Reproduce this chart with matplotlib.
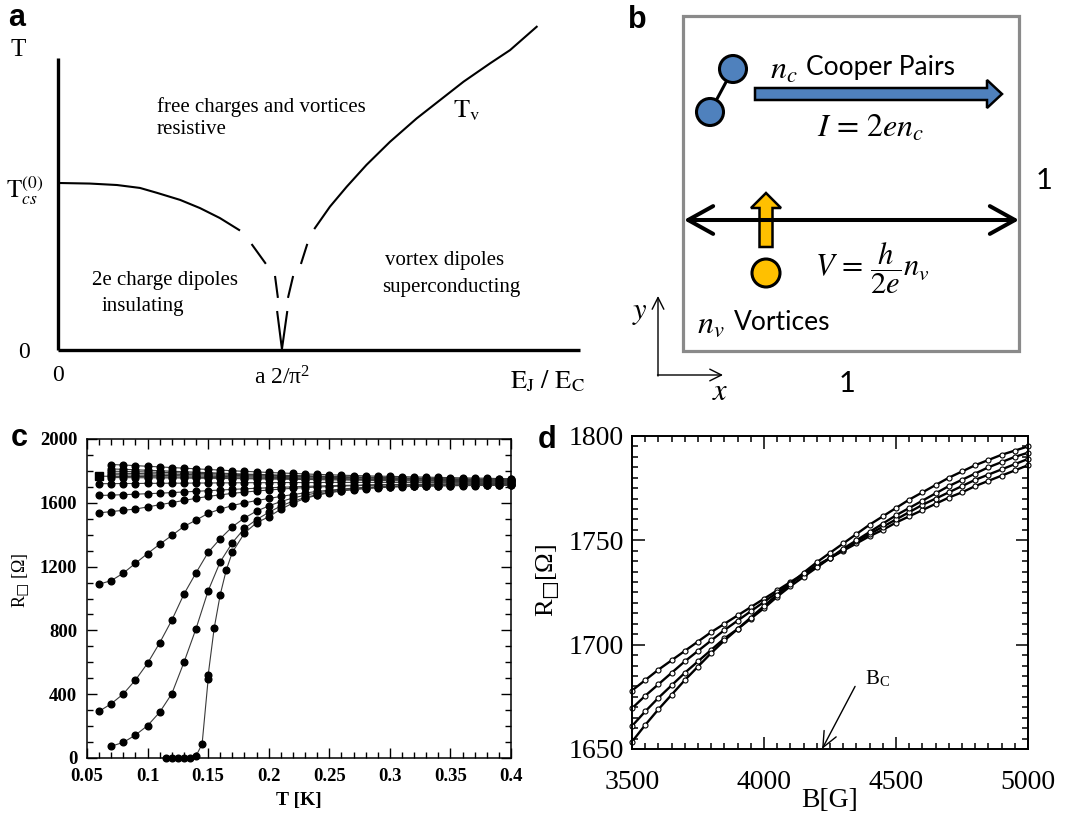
import numpy as np
import matplotlib
matplotlib.use('Agg')
import matplotlib.pyplot as plt
from matplotlib.patches import Circle, Polygon, Rectangle
from matplotlib.ticker import MultipleLocator, FuncFormatter

plt.rcParams['mathtext.fontset'] = 'stix'

W, H = 1065, 817
fig = plt.figure(figsize=(W / 100, H / 100), dpi=100)


def fx(px):
    return px / W


def fy(py):
    return 1 - py / H


SERIF = 'Liberation Serif'
SANS = 'Liberation Sans'
CAL = 'Lato'

# ------------------------------------------------------------------ data
# panel a : schematic phase diagram (x = E_J/E_C scaled, y = T scaled)
a_left_x = [0, 0.061, 0.113, 0.157, 0.190, 0.234, 0.272, 0.310, 0.347]
a_left_y = [0.572, 0.570, 0.565, 0.555, 0.538, 0.514, 0.486, 0.452, 0.411]
a_right_x = [0.492, 0.521, 0.553, 0.591, 0.636, 0.687, 0.732, 0.777, 0.828, 0.866, 0.917]
a_right_y = [0.417, 0.491, 0.559, 0.634, 0.713, 0.793, 0.856, 0.919, 0.982, 1.027, 1.107]
a_dashes = [
    ([0.372, 0.397], [0.360, 0.298]),
    ([0.416, 0.421], [0.250, 0.182]),
    ([0.441, 0.450], [0.182, 0.250]),
    ([0.466, 0.477], [0.298, 0.360]),
]
a_v_x = [0.420, 0.429, 0.439]
a_v_y = [0.130, 0.003, 0.130]

# panel c : R(T) curves
T06 = np.round(np.arange(0.06, 0.4001, 0.01), 2)
T07 = np.round(np.arange(0.07, 0.4001, 0.01), 2)
T_c7 = [0.115, 0.12, 0.125, 0.13, 0.135, 0.14, 0.145, 0.15, 0.15, 0.155, 0.16, 0.165, 0.17] + \
    list(np.round(np.arange(0.18, 0.4001, 0.01), 2))

R_I1 = [1840, 1837, 1833, 1829, 1825, 1821, 1817, 1813, 1809, 1805, 1801, 1797, 1794, 1790, 1787, 1784, 1781,
        1778, 1776, 1773, 1771, 1769, 1767, 1766, 1764, 1762, 1761, 1759, 1758, 1756, 1755, 1754, 1752, 1751]
R_I2 = [1812, 1810, 1807, 1804, 1801, 1798, 1795, 1792, 1789, 1786, 1783, 1780, 1778, 1776, 1773, 1771, 1769,
        1767, 1766, 1764, 1762, 1761, 1759, 1758, 1756, 1755, 1754, 1752, 1751, 1750, 1749, 1748, 1747, 1747]
R_I3 = [1798, 1797, 1795, 1793, 1791, 1789, 1787, 1785, 1783, 1781, 1779, 1777, 1775, 1773, 1771, 1769, 1767,
        1765, 1763, 1761, 1759, 1758, 1756, 1755, 1753, 1752, 1751, 1749, 1748, 1747, 1746, 1745, 1744, 1743]
R_I4 = [1786, 1785, 1784, 1782, 1781, 1779, 1778, 1776, 1775, 1773, 1772, 1770, 1769, 1767, 1766, 1764, 1763,
        1761, 1760, 1758, 1757, 1755, 1754, 1752, 1751, 1749, 1748, 1747, 1746, 1745, 1744, 1742, 1741, 1740]
R_I5 = [1776, 1775, 1774, 1773, 1772, 1771, 1769, 1768, 1767, 1765, 1764, 1763, 1762, 1760, 1759, 1757, 1756,
        1755, 1753, 1752, 1750, 1749, 1748, 1746, 1745, 1744, 1743, 1742, 1741, 1740, 1739, 1738, 1738, 1737]
R_I6 = [1767, 1766, 1765, 1765, 1764, 1763, 1762, 1761, 1760, 1759, 1758, 1757, 1756, 1755, 1754, 1753, 1752,
        1751, 1750, 1749, 1748, 1747, 1746, 1745, 1744, 1743, 1742, 1741, 1740, 1739, 1738, 1737, 1736, 1735, 1734]
R_I7 = [1758, 1758, 1757, 1757, 1756, 1756, 1755, 1754, 1754, 1753, 1752, 1751, 1750, 1749, 1748, 1747, 1746,
        1745, 1744, 1743, 1742, 1741, 1740, 1739, 1738, 1737, 1736, 1735, 1734, 1734, 1733, 1732, 1732, 1731]
R_F1 = [1720, 1720, 1721, 1721, 1722, 1722, 1723, 1723, 1724, 1724, 1725, 1725, 1726, 1726, 1726, 1727, 1727,
        1727, 1727, 1728, 1728, 1728, 1728, 1728, 1728, 1728, 1728, 1728, 1728, 1728, 1728, 1728, 1728, 1728, 1728]
R_F2 = [1646, 1648, 1651, 1654, 1657, 1660, 1664, 1668, 1672, 1676, 1680, 1684, 1688, 1691, 1694, 1697, 1700,
        1703, 1705, 1707, 1709, 1710, 1712, 1713, 1714, 1715, 1716, 1717, 1718, 1719, 1720, 1720, 1721, 1721, 1722]
R_C3 = [1537, 1545, 1553, 1561, 1574, 1588, 1601, 1615, 1628, 1640, 1650, 1659, 1667, 1674, 1680, 1686, 1691,
        1695, 1699, 1702, 1705, 1707, 1709, 1711, 1712, 1713, 1714, 1715, 1716, 1717, 1717, 1718, 1718, 1719, 1719]
R_C4 = [1090, 1112, 1159, 1221, 1282, 1340, 1395, 1452, 1491, 1534, 1560, 1583, 1600, 1614, 1627, 1640, 1652,
        1662, 1671, 1679, 1686, 1692, 1697, 1700, 1703, 1705, 1707, 1709, 1710, 1711, 1712, 1713, 1714, 1715, 1716]
R_C5 = [293, 340, 402, 489, 594, 722, 864, 1027, 1161, 1289, 1375, 1450, 1505, 1548, 1580, 1608, 1630,
        1648, 1662, 1673, 1682, 1689, 1694, 1698, 1701, 1703, 1705, 1706, 1707, 1708, 1709, 1710, 1711, 1712, 1713]
R_C6 = [74, 98, 144, 203, 287, 403, 599, 811, 1048, 1230, 1350, 1440, 1495, 1540, 1580, 1610, 1633,
        1651, 1665, 1676, 1685, 1692, 1697, 1701, 1704, 1706, 1707, 1708, 1709, 1710, 1710, 1711, 1711, 1711]
R_C7 = [0, 0, 0, 0, 0, 13, 87, 493, 519, 815, 1025, 1180, 1290,
        1410, 1475, 1512, 1560, 1598, 1627, 1648, 1663, 1674, 1683, 1689, 1694, 1698, 1701, 1703, 1705, 1706,
        1707, 1708, 1708, 1709, 1709, 1709]

c_series = [
    (T07, R_I1), (T07, R_I2), (T07, R_I3), (T07, R_I4), (T07, R_I5), (T06, R_I6), (T07, R_I7),
    (T06, R_F1), (T06, R_F2), (T06, R_C3), (T06, R_C4), (T06, R_C5), (T07, R_C6), (T_c7, R_C7),
]
c_xticks = [0.05, 0.1, 0.15, 0.2, 0.25, 0.3, 0.35, 0.4]
c_yticks = [0, 400, 800, 1200, 1600, 2000]

# panel d : R(B) curves
B = np.arange(3500, 5001, 50)
D1 = [1678, 1683, 1688, 1692.5, 1697, 1701.5, 1706, 1710, 1714, 1718, 1722, 1726, 1730, 1734, 1738, 1741.5,
      1745, 1748.5, 1752, 1755, 1758.5, 1761.5, 1764.5, 1767.5, 1770.5, 1773, 1776, 1778.5, 1781, 1783.5, 1786]
D2 = [1669.5, 1675.5, 1681, 1686.5, 1692, 1697, 1702, 1707, 1711.5, 1716, 1720.5, 1725, 1729.5, 1733.5, 1737.5,
      1741.5, 1745.5, 1749.5, 1753, 1756.5, 1760, 1763.5, 1767, 1770, 1773, 1776, 1779, 1781.5, 1784, 1786.5, 1789]
D3 = [1661, 1668, 1674.5, 1680.5, 1686.5, 1692, 1697.5, 1703, 1707.5, 1712.5, 1717.5, 1723, 1728, 1732.5, 1737,
      1741.5, 1746, 1750, 1754, 1758, 1762, 1765.5, 1769, 1772.5, 1776, 1779, 1782, 1785, 1787.5, 1790, 1792]
D4 = [1653.5, 1661.5, 1669, 1676, 1683, 1689.5, 1696, 1702, 1707.5, 1713, 1718.5, 1724, 1729, 1734.5, 1739.5,
      1744, 1748.5, 1753, 1757.5, 1761.5, 1765.5, 1769.5, 1773, 1776.5, 1780, 1783, 1786, 1788.5, 1791, 1793, 1795]
d_series = [D1, D2, D3, D4]
d_xticks = [3500, 4000, 4500, 5000]
d_yticks = [1650, 1700, 1750, 1800]
Bc_value = 4220

# ------------------------------------------------------------------ panel a
ax_a = fig.add_axes([fx(58), fy(350), fx(580) - fx(58), (350 - 20) / H])
ax_a.set_xlim(0, 1)
ax_a.set_ylim(0, 330 / 292)
ax_a.axis('off')
ax_a.plot([0, 0], [0, 1], color='black', lw=2.4, solid_capstyle='butt', clip_on=False)
ax_a.plot([0, 1], [0, 0], color='black', lw=2.4, solid_capstyle='butt', clip_on=False)
ax_a.plot(a_left_x, a_left_y, color='black', lw=1.5)
ax_a.plot(a_right_x, a_right_y, color='black', lw=1.5)
for xs, ys in a_dashes:
    ax_a.plot(xs, ys, color='black', lw=1.5)
ax_a.plot(a_v_x, a_v_y, color='black', lw=1.5)

fs_a = 15
fig.text(fx(18), fy(50), 'T', fontsize=18, family=SERIF, ha='center', va='center')
fig.text(fx(25), fy(190), r'$\mathrm{T}_{cs}^{(0)}$', fontsize=18, ha='center', va='center')
fig.text(fx(24), fy(352), '0', fontsize=17, family=SERIF, ha='center', va='center')
fig.text(fx(58), fy(376), '0', fontsize=17, family=SERIF, ha='center', va='center')
fig.text(fx(282), fy(378), r'a 2/$\mathregular{\pi^2}$', fontsize=17, family=SERIF, ha='center', va='center')
fig.text(fx(547), fy(381), r'$\mathrm{E_J\ /\ E_C}$', fontsize=19, ha='center', va='center')
fig.text(fx(467), fy(110), r'$\mathrm{T_v}$', fontsize=19, ha='center', va='center')
fig.text(fx(157), fy(107), 'free charges and vortices', fontsize=fs_a, family=SERIF, ha='left', va='center')
fig.text(fx(157), fy(130), 'resistive', fontsize=fs_a, family=SERIF, ha='left', va='center')
fig.text(fx(92), fy(280), '2e charge dipoles', fontsize=fs_a, family=SERIF, ha='left', va='center')
fig.text(fx(102), fy(306), 'insulating', fontsize=fs_a, family=SERIF, ha='left', va='center')
fig.text(fx(385), fy(260), 'vortex dipoles', fontsize=fs_a, family=SERIF, ha='left', va='center')
fig.text(fx(382), fy(287), 'superconducting', fontsize=fs_a, family=SERIF, ha='left', va='center')

# ------------------------------------------------------------------ panel b
ax_b = fig.add_axes([fx(600), fy(420), 465 / W, 420 / H])
ax_b.set_xlim(600, 1065)
ax_b.set_ylim(420, 0)
ax_b.axis('off')

ax_b.add_patch(Rectangle((683, 16), 336, 335, fill=False, ec='#8a8a8a', lw=2.3))

BLUE = '#4F81BD'
YEL = '#FFC000'
# cooper pair
ax_b.plot([733, 710], [69, 112], color='black', lw=2.2, zorder=2)
ax_b.add_patch(Circle((733, 69), 13.5, fc=BLUE, ec='black', lw=2.2, zorder=3))
ax_b.add_patch(Circle((710, 112), 13.5, fc=BLUE, ec='black', lw=2.2, zorder=3))


def hblock(x0, x1, yc, sh, hw, hl):
    return [(x0, yc - sh / 2), (x1 - hl, yc - sh / 2), (x1 - hl, yc - hw), (x1, yc),
            (x1 - hl, yc + hw), (x1 - hl, yc + sh / 2), (x0, yc + sh / 2)]


def vblock(xc, y0, y1, sw, hw, hl):
    return [(xc - sw / 2, y0), (xc - sw / 2, y1 + hl), (xc - hw, y1 + hl), (xc, y1),
            (xc + hw, y1 + hl), (xc + sw / 2, y1 + hl), (xc + sw / 2, y0)]


ax_b.add_patch(Polygon(hblock(755, 1002, 94, 12, 14, 15), closed=True, fc=BLUE, ec='black', lw=1.8,
                       joinstyle='miter', zorder=3))
ax_b.add_patch(Polygon(vblock(766, 247, 193, 13, 15, 15), closed=True, fc=YEL, ec='black', lw=1.8,
                       joinstyle='miter', zorder=3))
ax_b.annotate('', xy=(1019, 220), xytext=(684, 220),
              arrowprops=dict(arrowstyle='<->,head_length=0.9,head_width=0.5', lw=2.9, color='black',
                              shrinkA=0, shrinkB=0, mutation_scale=20), zorder=4)
ax_b.add_patch(Circle((766, 273), 14, fc=YEL, ec='black', lw=2.2, zorder=3))

# coordinate arrows
ax_b.annotate('', xy=(658, 296), xytext=(658, 376),
              arrowprops=dict(arrowstyle='->,head_length=0.7,head_width=0.35', lw=1.0, color='black',
                              shrinkA=0, shrinkB=0, mutation_scale=12))
ax_b.annotate('', xy=(723, 375), xytext=(657.5, 375),
              arrowprops=dict(arrowstyle='->,head_length=0.7,head_width=0.35', lw=1.0, color='black',
                              shrinkA=0, shrinkB=0, mutation_scale=12))

fig.text(fx(770), fy(70), r'$n_c$', fontsize=23, ha='left', va='center')
fig.text(fx(806), fy(68), 'Cooper Pairs', fontsize=19, family=CAL, ha='left', va='center')
fig.text(fx(871), fy(128), r'$I\,=\,2en_c$', fontsize=23, ha='center', va='center')
fig.text(fx(872), fy(268), r'$V\,=\,\dfrac{h}{2e}n_v$', fontsize=22, ha='center', va='center')
fig.text(fx(697), fy(324), r'$n_v$', fontsize=23, ha='left', va='center')
fig.text(fx(734), fy(322), 'Vortices', fontsize=19, family=CAL, ha='left', va='center')
fig.text(fx(1044), fy(181), '1', fontsize=21, family=CAL, ha='center', va='center')
fig.text(fx(847), fy(384), '1', fontsize=21, family=CAL, ha='center', va='center')
fig.text(fx(640), fy(312), r'$y$', fontsize=22, ha='center', va='center')
fig.text(fx(720), fy(392), r'$x$', fontsize=22, ha='center', va='center')

# ------------------------------------------------------------------ panel c
ax_c = fig.add_axes([fx(87), fy(758), (511 - 87) / W, (758 - 439) / H])
for T, R in c_series:
    ax_c.plot(T, R, color='#3a3a3a', lw=0.8, marker='o', ms=4.8, mfc='black', mec='black', clip_on=False,
              zorder=3)
ax_c.plot([T06[0]], [R_I6[0]], marker='s', ms=5.2, color='black', clip_on=False, zorder=4)
ax_c.set_xlim(0.05, 0.4)
ax_c.set_ylim(0, 2000)
ax_c.set_xticks(c_xticks)
ax_c.set_yticks(c_yticks)
ax_c.xaxis.set_minor_locator(MultipleLocator(0.01))
ax_c.yaxis.set_minor_locator(MultipleLocator(100))
ax_c.xaxis.set_major_formatter(FuncFormatter(lambda v, p: f'{v:g}'))
ax_c.tick_params(which='both', direction='in', top=True, right=True, width=1.0)
ax_c.tick_params(which='major', length=7, pad=7)
ax_c.tick_params(which='minor', length=4)
for lab in ax_c.get_xticklabels() + ax_c.get_yticklabels():
    lab.set_fontfamily(SERIF)
    lab.set_fontweight('bold')
    lab.set_fontsize(13.5)
for s in ax_c.spines.values():
    s.set_linewidth(1.1)
ax_c.set_xlabel('T [K]', fontsize=14, family=SERIF, fontweight='bold', labelpad=5)
fig.text(fx(21), fy(580), 'R$_{\u25a1}$ [Ω]', fontsize=13, family=SERIF, rotation=90,
         ha='center', va='center')

# ------------------------------------------------------------------ panel d
ax_d = fig.add_axes([fx(632), fy(749), (1028 - 632) / W, (749 - 436) / H])
for D in d_series:
    ax_d.plot(B, D, color='black', lw=1.7, marker='o', ms=3.6, mfc='white', mec='black', mew=0.8,
              clip_on=False)
ax_d.set_xlim(3500, 5000)
ax_d.set_ylim(1650, 1800)
ax_d.set_xticks(d_xticks)
ax_d.set_yticks(d_yticks)
ax_d.xaxis.set_minor_locator(MultipleLocator(50))
ax_d.yaxis.set_minor_locator(MultipleLocator(5))
ax_d.tick_params(which='both', direction='in', top=True, right=True, width=1.1)
ax_d.tick_params(which='major', length=9, pad=6)
ax_d.tick_params(axis='x', which='major', pad=15)
ax_d.tick_params(which='minor', length=4)
for lab in ax_d.get_xticklabels() + ax_d.get_yticklabels():
    lab.set_fontfamily(SERIF)
    lab.set_fontsize(20)
for s in ax_d.spines.values():
    s.set_linewidth(1.4)
ax_d.set_xlabel('B[G]', fontsize=20, family=SERIF, labelpad=-5)
fig.text(fx(548), fy(580), 'R$_{\u25a1}$[Ω]', fontsize=19, family=SERIF, rotation=90,
         ha='center', va='center')
ax_d.annotate('', xy=(Bc_value, 1650), xytext=(4345, 1680),
              arrowprops=dict(arrowstyle='->,head_length=0.8,head_width=0.35', lw=1.0, color='black',
                              shrinkA=0, shrinkB=0, mutation_scale=14))
fig.text(fx(878), fy(679), r'B$_{\mathregular{C}}$', fontsize=15, family=SERIF, ha='center', va='center')

# ------------------------------------------------------------------ panel letters
for letter, (px, py) in {'a': (17, 18), 'b': (637, 20), 'c': (19, 438), 'd': (547, 440)}.items():
    fig.text(fx(px), fy(py), letter, fontsize=22, family=SANS, fontweight='bold', ha='center', va='center')

fig.savefig('out.png', dpi=100)
